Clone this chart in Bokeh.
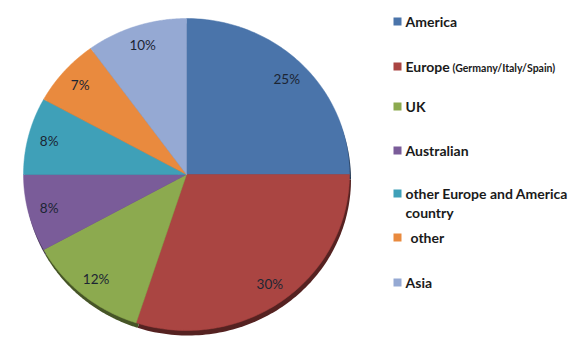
import numpy as np
from bokeh.plotting import figure
from bokeh.models import Range1d, ColumnDataSource
from bokeh.core.properties import value
from bokeh.embed import file_html
from bokeh.resources import INLINE

# ---- data ----
categories = ["America", "Europe", "UK", "Australian",
              "other Europe and America", "other", "Asia"]
legend_sub = ["", "(Germany/Italy/Spain)", "", "", "", "", ""]
legend_second_line = ["", "", "", "", "country", "", ""]
shares = [25, 30, 12, 8, 8, 7, 10]
colors = ["#4A74AA", "#AA4542", "#8CAA4F", "#7A5C99", "#3FA0B8", "#E98A3E", "#95A9D3"]

W, H = 571, 346
p = figure(width=W, height=H, x_range=Range1d(0, W), y_range=Range1d(H, 0),
           output_backend="svg", toolbar_location=None, min_border=0)
p.axis.visible = False
p.grid.visible = False
p.outline_line_color = None
p.background_fill_color = "white"
p.border_fill_color = "white"

# pie geometry (slightly elliptical, tilted look)
cx, cy, rx, ry = 186, 174, 163, 156
fr = np.array(shares, dtype=float) / sum(shares)
ends = np.pi / 2 - 2 * np.pi * np.cumsum(fr)
starts = np.concatenate([[np.pi / 2], ends[:-1]])


def wedge_pts(a0, a1, dx=0.0, dy=0.0):
    t = np.linspace(a0, a1, 90)
    xs = np.concatenate([[cx], cx + rx * np.cos(t)]) + dx
    ys = np.concatenate([[cy], cy - ry * np.sin(t)]) + dy
    return list(xs), list(ys)


def darken(hexc, f=0.5):
    h = hexc.lstrip("#")
    r, g, b = (int(h[i:i + 2], 16) for i in (0, 2, 4))
    return "#%02x%02x%02x" % (int(r * f), int(g * f), int(b * f))


# shadow rim
sx, sy = [], []
for a0, a1 in zip(starts, ends):
    xs, ys = wedge_pts(a0, a1, 1.5, 5)
    sx.append(xs)
    sy.append(ys)
p.patches(sx, sy, fill_color=[darken(c) for c in colors], line_color=None)

# slices
px, py = [], []
for a0, a1 in zip(starts, ends):
    xs, ys = wedge_pts(a0, a1)
    px.append(xs)
    py.append(ys)
p.patches(px, py, fill_color=colors, line_color=colors, line_width=0.5)

# percent labels
mids = (starts + ends) / 2
lf = 0.87
src = ColumnDataSource(dict(
    x=cx + rx * lf * np.cos(mids),
    y=cy - ry * lf * np.sin(mids),
    t=["%d%%" % s for s in shares]))
p.text(x="x", y="y", text="t", source=src, text_font=value("Lato"),
       text_font_size="13.5px", text_color="#1c2533",
       text_align="center", text_baseline="middle")

# legend
row_y = [21, 66, 106, 150, 193, 237, 282]
mx, tx = 393, 405
p.rect(x=[mx + 4] * len(categories), y=row_y, width=8, height=8,
       fill_color=colors, line_color=None)
text_x = [tx + (5 if c == "other" else 0) for c in categories]
lsrc = ColumnDataSource(dict(x=text_x, y=row_y, t=categories))
p.text(x="x", y="y", text="t", source=lsrc, text_font=value("Lato"),
       text_font_size="14px", text_font_style="bold", text_color="#1a1a1a",
       text_align="left", text_baseline="middle")

# sub-labels and second lines
sub_x, sub_y, sub_t = [], [], []
for i, s in enumerate(legend_sub):
    if s:
        sub_x.append(452); sub_y.append(row_y[i] + 1); sub_t.append(s)
p.text(x=sub_x, y=sub_y, text=sub_t, text_font=value("Lato"),
       text_font_size="10.5px", text_font_style="bold", text_color="#1a1a1a",
       text_align="left", text_baseline="middle")
sec_x, sec_y, sec_t = [], [], []
for i, s in enumerate(legend_second_line):
    if s:
        sec_x.append(tx); sec_y.append(row_y[i] + 19); sec_t.append(s)
p.text(x=sec_x, y=sec_y, text=sec_t, text_font=value("Lato"),
       text_font_size="14px", text_font_style="bold", text_color="#1a1a1a",
       text_align="left", text_baseline="middle")

open("out.html", "w").write(file_html(p, INLINE))
